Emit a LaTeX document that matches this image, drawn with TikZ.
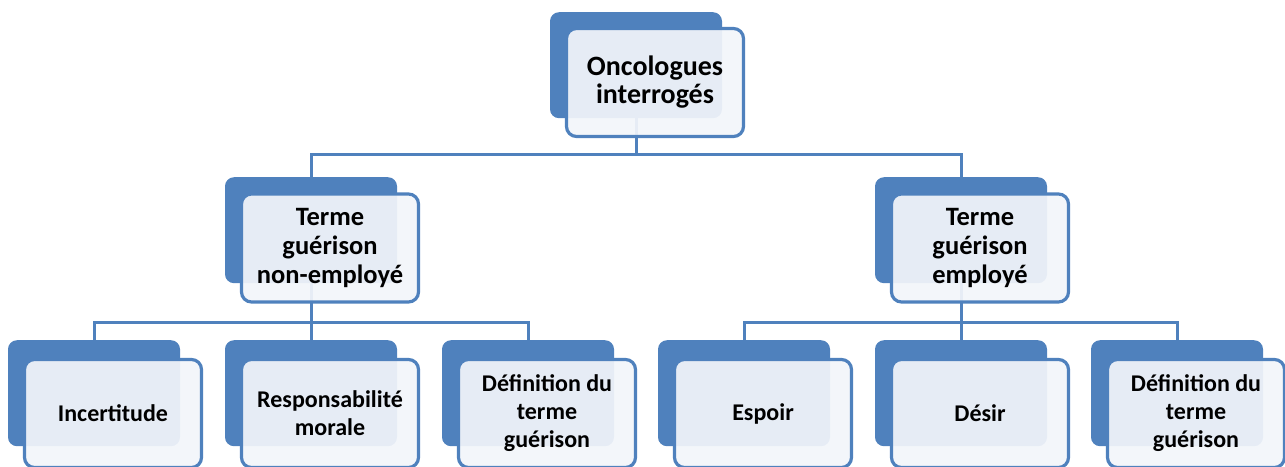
\documentclass[tikz,border=0pt]{standalone}
\usepackage{fontspec}
\setmainfont{Carlito}
\usetikzlibrary{backgrounds}
\definecolor{orgblue}{HTML}{4F81BD}
\definecolor{orgfill}{HTML}{F2F5FA}
\tikzset{
  backbox/.style={fill=orgblue, draw=none, rounded corners=9pt, minimum width=172pt, minimum height=106pt, inner sep=0pt},
  frontbox/.style={draw=orgblue, line width=3.2pt, fill=orgfill, fill opacity=0.93, text opacity=1, rounded corners=10pt, minimum width=177pt, minimum height=108pt, inner sep=2pt, align=center},
  lvltop/.style={font=\fontsize{28}{28}\selectfont\bfseries},
  lvlmid/.style={font=\fontsize{26.5}{29}\selectfont\bfseries},
  lvlbot/.style={font=\fontsize{24}{28}\selectfont\bfseries},
  conn/.style={draw=orgblue, line width=3pt}
}
% name, cx, top, vertical offset of front centre, level style, text
\newcommand\orgbox[6]{%
  \node[backbox, anchor=north] (#1b) at (#2,#3) {};
  \node[frontbox,#5] (#1) at ([xshift=19pt,yshift=-#4pt]#1b.north) {#6};
}
\begin{document}
\begin{tikzpicture}[x=1pt,y=-1pt]
\useasboundingbox (0,0) rectangle (1285,466);
\clip (0,0) rectangle (1285,466);
\orgbox{top}{636}{12}{70.5}{lvltop}{Oncologues\\interrogés}
\orgbox{ml}{311}{177}{71}{lvlmid}{Terme\\guérison\\non-employé}
\orgbox{mr}{961}{177}{71}{lvlmid}{Terme\\guérison\\employé}
\orgbox{la}{94}{340}{73.5}{lvlbot}{Incertitude}
\orgbox{lb}{311}{340}{73.5}{lvlbot}{Responsabilité\\morale}
\orgbox{lc}{528}{340}{73.5}{lvlbot}{Définition du\\terme\\guérison}
\orgbox{ra}{744}{340}{73.5}{lvlbot}{Espoir}
\orgbox{rb}{961}{340}{73.5}{lvlbot}{Désir}
\orgbox{rc}{1177}{340}{73.5}{lvlbot}{Définition du\\terme\\guérison}
\begin{scope}[on background layer]
  \coordinate (j0) at (636,154);
  \coordinate (j1) at (311,322);
  \coordinate (j2) at (961,322);
  \draw[conn] (topb.south) -- (j0);
  \draw[conn] (j0) -| (mlb.north);
  \draw[conn] (j0) -| (mrb.north);
  \draw[conn] (mlb.south) -- (j1);
  \draw[conn] (j1) -| (lab.north);
  \draw[conn] (j1) -- (lbb.north);
  \draw[conn] (j1) -| (lcb.north);
  \draw[conn] (mrb.south) -- (j2);
  \draw[conn] (j2) -| (rab.north);
  \draw[conn] (j2) -- (rbb.north);
  \draw[conn] (j2) -| (rcb.north);
\end{scope}
\end{tikzpicture}
\end{document}
